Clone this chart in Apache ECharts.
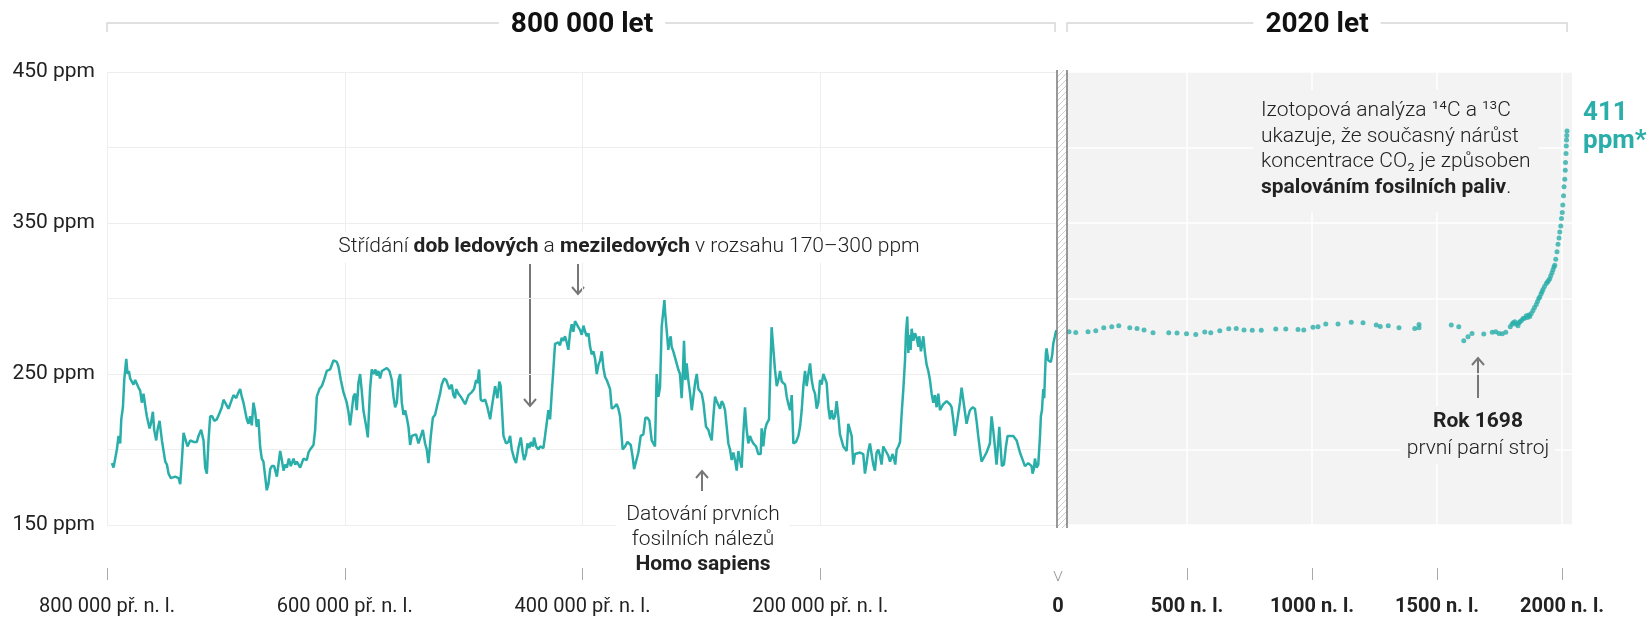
<!DOCTYPE html>
<html>
<head>
<meta charset="utf-8">
<script src="https://cdn.jsdelivr.net/npm/echarts@6/dist/echarts.min.js"></script>
<style>
  html, body { margin: 0; padding: 0; background: #fff; }
  #chart { width: 1652px; height: 617px; }
</style>
</head>
<body>
<div id="chart"></div>
<script>
// ledová jádra: [tisíce let před n. l., ppm]
const glacialA = [[795.9,191],[794.5,188],[791.7,200],[790.3,209],[788.9,204],[788.0,220],[786.6,228],[785.5,246],[783.8,260],[782.7,250],[781.6,252],[780.5,247],[779.1,248],[777.7,243],[776.3,246],[774.9,245],[773.5,241],[772.1,239],[770.7,231],[769.3,237],[768.4,238],[767.3,226],[766.5,222],[765.1,223],[764.2,214],[763.1,217],[761.4,225],[760.3,213],[758.6,206],[757.5,213],[755.8,219],[753.8,206],[751.0,192],[749.6,190],[748.2,184],[746.3,181],[742.6,182],[739.8,181],[738.4,177],[737.0,193],[735.6,211],[733.4,205],[732.3,202],[730.0,206],[727.2,205],[724.4,205],[723.0,209],[720.8,213],[718.8,206],[717.4,188],[716.0,184],[714.6,206],[713.2,222],[711.5,222],[709.8,219],[707.6,220],[705.4,224],[703.4,228],[702.0,233],[700.6,232],[697.8,227],[696.4,227],[695.0,233],[693.6,236],[691.3,234],[689.9,237],[688.0,240],[686.6,235],[685.2,231],[682.4,220],[681.0,217],[679.6,222],[678.2,216],[676.8,231],[675.4,225],[674.0,215],[672.6,220],[671.2,202],[669.8,194],[668.4,192],[665.6,173],[664.2,177],[662.7,187],[661.3,189],[659.4,189],[657.1,182],[654.3,199],[652.9,193],[651.5,186],[650.1,190],[648.7,188],[647.0,194],[645.4,189],[643.1,194],[641.7,190],[640.3,192],[637.5,188],[634.7,194],[631.9,193],[630.5,198],[629.1,200],[626.3,203],[624.9,213],[623.5,235],[621.3,240],[619.3,242],[617.9,245],[615.1,252],[612.3,253],[609.5,259],[606.7,258],[605.3,255],[603.3,246],[601.1,238],[598.3,231],[596.9,225],[595.5,216],[594.1,217],[592.7,235],[591.3,237],[589.9,226],[588.5,244],[587.1,250],[585.7,239],[584.3,226],[581.5,213],[580.6,208],[578.7,240],[577.3,253],[575.9,250],[574.2,253],[573.1,249],[571.7,252],[570.3,247],[568.8,252],[567.4,252],[564.6,254],[562.4,252],[560.4,246],[559.0,235],[557.6,228],[556.2,231],[554.8,246],[553.4,250],[552.0,231],[550.6,223],[549.2,226],[547.8,221],[546.4,215],[545.0,203],[543.6,209],[542.2,210],[540.0,210],[538.0,204],[536.6,205]];
const glacialB = [[534.3,213],[532.4,204],[531.0,200],[529.6,191],[527.6,209],[525.9,221],[524.0,223],[522.0,230],[519.8,237],[518.4,243],[516.4,247],[514.7,246],[513.6,246],[511.9,240],[510.0,243],[508.6,236],[507.2,234],[506.3,240],[504.4,237],[502.4,235],[500.2,232],[498.7,230],[497.3,233],[495.9,236],[493.1,238],[491.2,240],[489.5,246],[488.4,244],[487.0,253],[485.6,233],[483.9,232],[481.9,233],[480.0,228],[477.7,220],[476.3,228],[474.9,235],[473.5,242],[471.6,234],[469.9,245],[468.8,242],[466.5,209],[464.3,204],[462.3,205],[460.9,209],[459.5,200],[457.5,194],[455.9,191],[453.9,201],[451.9,208],[450.3,198],[449.1,193],[447.5,197],[446.3,204],[444.7,201],[443.5,205],[441.8,202],[440.7,208],[439.0,202],[437.1,200],[435.7,202],[434.3,201],[432.9,201],[431.5,209],[430.1,209],[428.7,226],[427.3,220],[425.9,237],[424.5,253],[423.1,270],[421.7,269],[420.3,271],[418.9,269],[417.5,274],[416.1,272],[414.7,275],[413.3,271],[411.9,266],[410.5,277],[409.1,283],[407.7,278],[406.3,285],[404.9,286],[403.5,281],[402.0,279],[400.6,276],[399.2,282],[397.8,278],[396.4,275],[395.0,277],[393.6,268],[392.2,263],[390.8,265],[389.4,260],[388.0,250],[386.6,256],[385.2,259],[383.8,265],[382.4,254],[381.0,248],[379.6,246],[378.2,246],[376.8,240],[375.4,227],[373.5,228],[371.2,230],[369.8,227],[368.4,222],[366.2,200],[364.2,202],[362.2,205],[360.6,206],[359.4,203],[357.8,195],[356.6,187],[355.0,187],[353.0,198],[351.0,209],[348.8,210],[347.1,221],[345.4,221],[343.7,219],[341.8,206],[340.4,204],[339.0,202],[337.6,250],[336.2,235],[334.8,241],[333.4,281],[332.0,292],[331.1,299],[330.6,292],[329.2,279],[327.8,266],[326.9,272],[325.8,275],[325.0,268],[323.6,265],[322.2,264],[320.8,257],[319.4,253],[318.0,250],[316.6,234],[315.7,248],[314.6,272],[313.5,246],[312.4,257],[311.0,246],[309.5,237],[308.1,226],[306.7,226],[305.3,244],[303.9,250],[302.5,240],[301.1,240],[299.7,237],[298.3,231],[296.1,215],[294.1,213],[292.7,209],[291.3,206],[289.9,222],[288.5,235],[287.1,232],[285.7,231],[284.3,227],[282.9,232],[281.5,230],[280.1,226],[278.7,215],[277.3,204],[275.9,200]];
const glacialC = [[274.5,193],[273.1,198],[271.7,193],[270.3,186],[268.9,199],[267.5,193],[266.1,188],[264.7,211],[263.3,228],[261.9,213],[260.5,204],[259.1,209],[257.7,206],[256.3,204],[254.0,202],[252.1,197],[250.1,197],[249.3,214],[247.9,202],[246.5,213],[245.1,217],[243.1,220],[242.3,244],[240.9,281],[239.5,267],[238.1,253],[236.6,242],[235.2,246],[233.8,252],[232.4,245],[229.6,243],[228.2,235],[226.8,230],[225.4,226],[224.0,236],[222.6,204],[220.4,205],[218.4,209],[217.0,215],[215.6,226],[214.2,242],[212.8,252],[211.4,242],[210.0,250],[208.6,257],[207.2,246],[205.8,240],[204.4,237],[203.0,227],[201.6,231],[200.2,246],[198.8,243],[197.4,250],[196.0,247],[194.6,244],[193.2,228],[191.8,220],[190.4,226],[189.0,220],[187.6,222],[186.2,232],[184.8,222],[183.4,210],[182.0,206],[180.6,202],[177.8,199],[176.4,217],[175.0,213],[173.6,209],[172.2,190],[170.8,197],[169.4,198],[166.6,198],[163.8,197],[162.4,184],[161.0,191],[159.6,199],[158.2,204],[156.8,197],[155.4,190],[154.0,186],[152.6,198],[151.2,200],[149.8,196],[148.4,190],[147.0,202],[145.6,201],[144.2,198],[142.8,196],[141.3,192],[139.9,191],[139.1,197],[138.0,194],[136.9,190],[135.7,200],[134.3,202],[132.9,205],[131.5,224],[130.1,240],[128.7,259],[127.9,277],[126.8,288],[125.9,264],[125.1,276],[124.0,266],[123.1,280],[121.7,272],[120.3,277],[118.9,274],[117.5,268],[116.7,275],[115.3,265],[114.2,270],[113.3,275],[111.9,264],[110.5,256],[109.1,252],[107.7,246],[106.3,237],[104.9,231],[103.5,236],[102.1,228],[100.7,237],[99.3,226],[97.9,228],[96.5,230],[93.7,232],[90.9,230],[89.5,228],[88.1,220],[86.7,209],[85.3,216],[83.9,215],[82.5,231],[81.1,241],[79.7,233],[78.3,225],[76.9,217],[75.5,222],[74.1,226],[71.8,228],[69.9,227],[68.5,219],[67.1,209],[65.7,200],[64.3,192],[62.9,192],[60.1,198],[57.3,204],[55.9,222],[54.5,213],[53.1,202],[51.7,190],[50.3,204],[49.4,215],[48.3,202],[47.2,189],[45.5,190],[43.8,202],[42.4,209],[40.4,209],[37.6,209],[36.2,209],[34.8,206],[32.0,198],[29.2,192],[27.8,189],[26.4,190],[25.0,191],[23.6,191],[22.2,189],[21.4,184],[20.3,187],[19.4,194],[18.0,188],[16.6,190],[15.2,208],[14.4,222],[13.5,226],[12.4,240],[11.6,234],[11.0,248],[10.2,264],[9.6,267],[8.2,259],[6.8,260],[6.0,258],[4.8,263],[4.0,270],[2.6,275],[1.8,278],[1.2,279]];

// posledních 2020 let: [rok n. l., ppm]
const modernEra = [[28,278],[55,277.5],[104,278],[135,278.7],[167,280.6],[199,281.3],[227,282],[271,280.6],[300,280.2],[328,279.1],[364,277.3],[427,277.3],[460,277.1],[498,276.7],[535,276.2],[571,277.8],[595,277.3],[631,278.7],[667,280],[697,280.2],[728,279.1],[761,278.9],[797,278.9],[855,279.8],[895,279.8],[944,279.5],[967,279.1],[1004,280.9],[1024,281.3],[1055,283.1],[1104,283.1],[1157,284.2],[1204,283.9],[1257,282.4],[1273,281.5],[1305,282],[1348,280.6],[1411,280.2],[1428,282.8],[1428,280.6],[1557,282.4],[1587,281.3],[1607,272],[1624,274.7],[1640,276.9],[1687,276.5],[1721,277.6],[1735,278],[1748,276.9],[1761,276.7],[1775,277.6],[1793,281.3],[1800,283],[1805,284],[1811,284.6],[1817,283],[1824,282],[1828,284],[1831,284.6],[1838,285.5],[1844,286.8],[1850,287],[1857,288.6],[1862,287.5],[1867,289],[1871,288],[1877,290],[1884,292],[1890,294],[1897,296],[1902,298],[1907,300],[1911,301],[1916,303],[1920,304.5],[1924,306],[1930,308],[1937,310],[1942,311],[1946,312],[1951,313],[1955,315],[1960,317],[1964,319],[1968,321],[1971,322],[1975,326],[1980,331],[1984,336],[1988,340],[1991,344],[1995,348],[1998,353],[2001,357],[2003,362],[2006,368],[2008,374],[2011,379],[2013,385],[2014,390],[2016,396],[2017,401],[2018,405],[2019,408],[2020,411]];

const kyrTicks = [800, 600, 400, 200];
const kyrLabels = [800, 600, 400, 200, 0];
const ceTicks = [500, 1000, 1500, 2000];
const ppmLabels = [150, 250, 350, 450];

const TEAL = '#2aaea9';
const FONT = 'Roboto, "Noto Sans", sans-serif';
const INK = '#222';
const ARROW = '#777';

let chartDom = document.getElementById('chart');
let myChart = echarts.init(chartDom);

// šrafovaný pruh mezi panely
const hatch = document.createElement('canvas');
hatch.width = 6; hatch.height = 6;
const hc = hatch.getContext('2d');
hc.fillStyle = '#fff'; hc.fillRect(0, 0, 6, 6);
hc.strokeStyle = '#cdcdcd'; hc.lineWidth = 1;
hc.beginPath(); hc.moveTo(-1, 7); hc.lineTo(7, -1); hc.stroke();

function arrow(x, from, to) {
  const d = to > from ? -7 : 7;
  return [
    {type: 'line', shape: {x1: x, y1: from, x2: x, y2: to}, style: {stroke: ARROW, lineWidth: 2}},
    {type: 'polyline', shape: {points: [[x - 6, to + d], [x, to], [x + 6, to + d]]}, style: {stroke: ARROW, lineWidth: 2, fill: null}}
  ];
}

function bracket(x1, x2) {
  return {type: 'polyline', shape: {points: [[x1, 32], [x1, 23], [x2, 23], [x2, 32]]}, style: {stroke: '#d6d6d6', lineWidth: 1.5, fill: null}};
}

const light = {fontFamily: FONT, fontSize: 21, fontWeight: 300, fill: INK, lineHeight: 25};
const bold = {fontFamily: FONT, fontSize: 21, fontWeight: 'bold', fill: INK, lineHeight: 25};

let option = {
  animation: false,
  textStyle: {fontFamily: FONT},
  grid: [
    {left: 107, top: 72, width: 951, height: 455},
    {left: 1062, top: 72, width: 510, height: 455, show: true, backgroundColor: '#f3f3f3', borderWidth: 0}
  ],
  xAxis: [
    {
      gridIndex: 0, type: 'value', min: 0, max: 800, interval: 50, inverse: true, offset: 43,
      axisLine: {show: false},
      axisTick: {show: true, length: 12, customValues: kyrTicks, lineStyle: {color: '#aaa'}},
      axisLabel: {
        customValues: kyrLabels, margin: 29, fontSize: 20, color: INK,
        formatter: v => v === 0 ? '{b|0}' : v + ' 000 př. n. l.',
        rich: {b: {fontWeight: 'bold', fontSize: 20, color: INK}}
      },
      splitLine: {lineStyle: {color: '#eeeeee', width: 1}}
    },
    {
      gridIndex: 1, type: 'value', min: 0, max: 2040, interval: 500, offset: 43,
      axisLine: {show: false},
      axisTick: {show: true, length: 12, customValues: ceTicks, lineStyle: {color: '#aaa'}},
      axisLabel: {
        customValues: ceTicks, margin: 29, fontSize: 20, color: INK, fontWeight: 'bold',
        formatter: v => v + ' n. l.'
      },
      splitLine: {lineStyle: {color: '#ffffff', width: 1.5}}
    }
  ],
  yAxis: [
    {
      gridIndex: 0, type: 'value', min: 150, max: 450, interval: 50,
      axisLine: {show: false}, axisTick: {show: false},
      axisLabel: {customValues: ppmLabels, formatter: v => v + ' ppm', fontSize: 21, color: INK, margin: 12},
      splitLine: {lineStyle: {color: '#eeeeee', width: 1}}
    },
    {
      gridIndex: 1, type: 'value', min: 150, max: 450, interval: 50,
      axisLine: {show: false}, axisTick: {show: false}, axisLabel: {show: false},
      splitLine: {lineStyle: {color: '#ffffff', width: 1.5}}
    }
  ],
  series: [
    {
      type: 'line', xAxisIndex: 0, yAxisIndex: 0, showSymbol: false, silent: true,
      data: glacialA.concat(glacialB, glacialC),
      lineStyle: {color: TEAL, width: 2.5}, z: 3
    },
    {
      type: 'scatter', xAxisIndex: 1, yAxisIndex: 1, silent: true,
      data: modernEra, symbolSize: 5,
      itemStyle: {color: TEAL}, z: 3
    }
  ],
  graphic: {
    elements: [
      bracket(107, 1055),
      bracket(1067, 1567),
      {type: 'text', x: 582, y: 25, z: 5, style: {text: '800 000 let', fontFamily: FONT, fontSize: 28, fontWeight: 'bold', fill: '#111', align: 'center', verticalAlign: 'middle', backgroundColor: '#fff', padding: [0, 12]}},
      {type: 'text', x: 1317, y: 25, z: 5, style: {text: '2020 let', fontFamily: FONT, fontSize: 28, fontWeight: 'bold', fill: '#111', align: 'center', verticalAlign: 'middle', backgroundColor: '#fff', padding: [0, 12]}},

      // pruh mezi panely
      {type: 'rect', z: 6, shape: {x: 1057, y: 70, width: 10, height: 458}, style: {fill: {image: hatch, repeat: 'repeat'}}},
      {type: 'line', z: 7, shape: {x1: 1057, y1: 70, x2: 1057, y2: 528}, style: {stroke: '#777', lineWidth: 1.5}},
      {type: 'line', z: 7, shape: {x1: 1067, y1: 70, x2: 1067, y2: 528}, style: {stroke: '#777', lineWidth: 1.5}},
      {type: 'polyline', z: 7, shape: {points: [[1054, 571], [1058, 581], [1062, 571]]}, style: {stroke: '#999', lineWidth: 1, fill: null}},

      // anotace
      {type: 'text', x: 629, y: 247, z: 8, style: {
        text: '{l|Střídání }{b|dob ledových}{l| a }{b|meziledových}{l| v rozsahu 170–300 ppm}',
        rich: {l: light, b: bold}, align: 'center', verticalAlign: 'middle', backgroundColor: '#fff', padding: [3, 8]}},
      ...arrow(530, 264, 406),
      ...arrow(578, 264, 294),

      {type: 'text', x: 703, y: 498, z: 8, style: {
        text: '{l|Datování prvních}\n{l|fosilních nálezů}\n{b|Homo sapiens}',
        rich: {l: light, b: bold}, align: 'center', verticalAlign: 'top', backgroundColor: '#fff', padding: [4, 10, 4, 10]}},
      ...arrow(702, 491, 471),

      {type: 'text', x: 1478, y: 406, z: 8, style: {
        text: '{b|Rok 1698}\n{l|první parní stroj}',
        rich: {l: Object.assign({}, light, {lineHeight: 27}), b: Object.assign({}, bold, {lineHeight: 27})},
        align: 'center', verticalAlign: 'top', backgroundColor: '#f3f3f3', padding: [2, 6]}},
      ...arrow(1478, 398, 358),

      {type: 'text', x: 1253, y: 90, z: 8, style: {
        text: '{l|Izotopová analýza ¹⁴C a ¹³C}\n{l|ukazuje, že současný nárůst}\n{l|koncentrace CO₂ je způsoben}\n{b|spalováním fosilních paliv}{l|.}',
        rich: {l: Object.assign({}, light, {lineHeight: 25.6}), b: Object.assign({}, bold, {lineHeight: 25.6})},
        align: 'left', verticalAlign: 'top', backgroundColor: '#f3f3f3', padding: [8, 8, 12, 8]}},

      {type: 'text', x: 1583, y: 99, z: 8, style: {
        text: '411\nppm*', fontFamily: FONT, fontSize: 26, fontWeight: 'bold', fill: TEAL, lineHeight: 28,
        align: 'left', verticalAlign: 'top'}}
    ]
  }
};

option && myChart.setOption(option);
</script>
</body>
</html>
